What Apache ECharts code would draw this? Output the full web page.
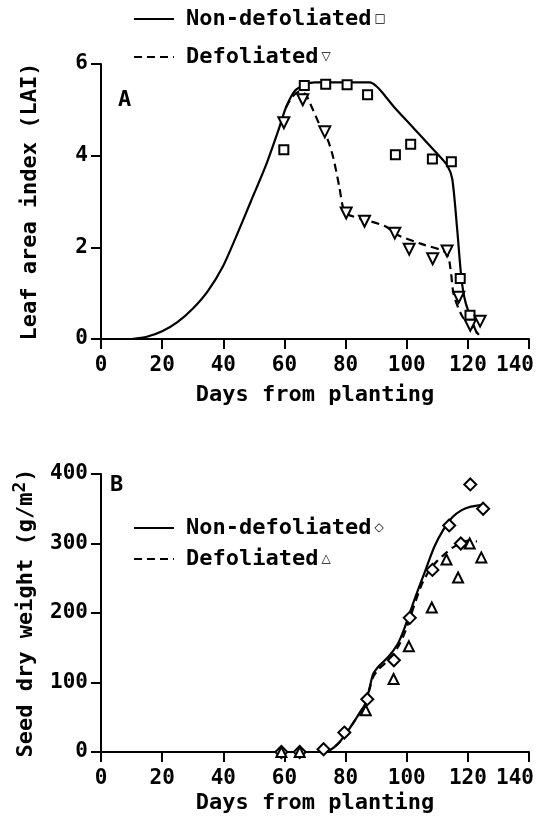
<!DOCTYPE html>
<html>
<head>
<meta charset="utf-8">
<title>LAI and seed dry weight</title>
<script src="https://cdn.jsdelivr.net/npm/echarts@6/dist/echarts.min.js"></script>
<style>
html, body { margin: 0; padding: 0; background: #fff; }
#main { width: 537px; height: 820px; }
</style>
</head>
<body>
<div id="main"></div>
<script>
var fontName = 'DejaVu Sans Mono';
var fontW = 'bold';

// A: leaf area index, fitted curves [day, LAI]
var laiNonDefCurve = [[10, 0], [15, 0.05], [20, 0.17], [25, 0.37], [30, 0.66], [35, 1.05], [40, 1.6], [44, 2.2], [49, 3.0], [54, 3.8], [58, 4.55], [60.5, 5.05], [63.5, 5.42], [67, 5.56], [70, 5.6], [88, 5.6], [90, 5.52], [92, 5.38], [96, 5.05], [102, 4.62], [110, 4.04], [113.3, 3.78], [114.9, 3.49], [116.5, 2.4], [117.9, 1.32], [119.2, 0.81], [121.4, 0.38], [123, 0.12]];
var laiDefCurve = [[60.5, 5.05], [62.5, 5.28], [65, 5.4], [67, 5.33], [69, 5.05], [72, 4.6], [74, 4.38], [76, 3.95], [78, 3.3], [79.2, 2.86], [80.5, 2.72], [86, 2.61], [93, 2.46], [97, 2.27], [105, 2.07], [113, 1.88], [114.3, 1.54], [115.4, 0.96], [118.2, 0.49], [121, 0.3], [123.6, 0.09]];
// A: observed
var laiNonDefObs = [[59.8, 4.13], [66.5, 5.53], [73.5, 5.56], [80.5, 5.55], [87.2, 5.33], [96.3, 4.02], [101.3, 4.25], [108.4, 3.93], [114.6, 3.87], [117.5, 1.32], [120.7, 0.52]];
var laiDefObs = [[59.8, 4.72], [66, 5.22], [73.2, 4.52], [80.2, 2.75], [86.2, 2.57], [96.1, 2.31], [100.8, 1.96], [108.5, 1.75], [113.2, 1.92], [117, 0.91], [120.8, 0.3], [124, 0.39]];

// B: seed dry weight, fitted curves [day, g/m2]
var seedNonDefCurve = [[60, 0], [72, 0], [75, 3], [78, 14], [81, 32], [84, 52], [86.5, 70], [88, 95], [89, 112], [91, 124], [94, 137], [97, 155], [99, 175], [101, 200], [103, 225], [106, 260], [109, 295], [112, 320], [115, 338], [118, 348], [121, 353], [125, 356]];
var seedDefCurve = [[60, 0], [72, 0], [75, 3], [78, 14], [81, 32], [84, 52], [86.5, 70], [88, 93], [89, 108], [91, 120], [94, 132], [97, 150], [99, 168], [101, 192], [103, 218], [105, 242], [107.5, 262], [110, 275], [112.5, 285], [115, 294], [117.5, 300], [120, 304], [123, 303]];
// B: observed
var seedNonDefObs = [[59, 0], [65, 0], [72.8, 4], [79.6, 28], [87.1, 76], [95.8, 132], [101, 193], [108.4, 262], [113.9, 326], [117.7, 300], [120.8, 385], [125, 350]];
var seedDefObs = [[59, 0], [65, 0], [86.6, 60], [95.7, 105], [100.7, 152], [108.2, 208], [113, 277], [116.8, 251], [120.6, 300], [124.4, 280]];

var legendNames = ['Non-defoliated', 'Defoliated'];
var marksA = { 'Non-defoliated': '□', 'Defoliated': '▽' };
var marksB = { 'Non-defoliated': '◇', 'Defoliated': '△' };

function xAxisCfg(grid, gap) {
	return {
		type: 'value', gridIndex: grid, min: 0, max: 140, interval: 20,
		name: 'Days from planting', nameLocation: 'middle', nameGap: gap,
		nameTextStyle: { fontFamily: fontName, fontWeight: fontW, fontSize: 22, color: '#000' },
		axisLine: { show: true, onZero: false, lineStyle: { color: '#000', width: 2 } },
		axisTick: { show: true, inside: false, length: 10, lineStyle: { color: '#000', width: 2 } },
		axisLabel: {
			fontFamily: fontName, fontWeight: fontW, fontSize: 21, color: '#000', margin: 16,
			// last label sits left of its tick, as on the page edge
			formatter: function(v) {
				return v === 140 ? '{m|140}' : String(v);
			},
			rich: { m: { fontFamily: fontName, fontWeight: fontW, fontSize: 21, color: '#000', padding: [0, 28, 0, 0] } }
		},
		splitLine: { show: false }
	};
}

function yAxisCfg(grid, max, step, name, rich) {
	return {
		type: 'value', gridIndex: grid, min: 0, max: max, interval: step,
		name: name, nameLocation: 'middle', nameRotate: 90, nameGap: 60,
		nameTextStyle: { fontFamily: fontName, fontWeight: fontW, fontSize: 22, color: '#000', rich: rich },
		axisLine: { show: true, onZero: false, lineStyle: { color: '#000', width: 2 } },
		axisTick: { show: true, inside: false, length: 10, lineStyle: { color: '#000', width: 2 } },
		axisLabel: { fontFamily: fontName, fontWeight: fontW, fontSize: 21, color: '#000', margin: 13 },
		splitLine: { show: false }
	};
}

function legendCfg(top, gap, marks) {
	return {
		orient: 'vertical', left: 133, top: top, padding: 0,
		itemWidth: 40, itemHeight: 14, itemGap: gap,
		data: legendNames,
		selectedMode: false,
		itemStyle: { opacity: 0 },
		formatter: function(name) {
			return '{g|}{t|' + name + '}{s|' + marks[name] + '}';
		},
		textStyle: {
			color: '#000',
			rich: {
				g: { width: 7 },
				t: { fontFamily: fontName, fontWeight: fontW, fontSize: 22, color: '#000', lineHeight: 24 },
				s: { fontFamily: 'DejaVu Sans', fontSize: 12, fontWeight: 'bold', color: '#000', padding: [0, 0, 0, 3] }
			}
		}
	};
}

function curve(name, grid, data, dashed) {
	return {
		name: name, type: 'line', xAxisIndex: grid, yAxisIndex: grid,
		data: data, symbol: 'none', smooth: 0.25,
		itemStyle: { color: '#000' },
		lineStyle: { color: '#000', width: 2.2, type: dashed ? [8, 5] : 'solid' },
		z: 2
	};
}

function points(name, grid, data, symbol, size, rotate) {
	return {
		name: name, type: 'scatter', xAxisIndex: grid, yAxisIndex: grid,
		data: data, symbol: symbol, symbolSize: size, symbolRotate: rotate || 0,
		itemStyle: { color: '#fff', borderColor: '#000', borderWidth: 2, opacity: 1 },
		z: 3
	};
}

var myChart = echarts.init(document.getElementById('main'));
var option = {
	backgroundColor: '#fff',
	animation: false,
	title: [
		{ text: 'A', left: 118, top: 89, padding: 0, textStyle: { fontFamily: fontName, fontSize: 22, fontWeight: fontW, color: '#000' } },
		{ text: 'B', left: 110, top: 474, padding: 0, textStyle: { fontFamily: fontName, fontSize: 22, fontWeight: fontW, color: '#000' } }
	],
	legend: [legendCfg(8, 16, marksA), legendCfg(517, 9, marksB)],
	grid: [
		{ left: 101, right: 8, top: 64, bottom: 481 },
		{ left: 101, right: 8, top: 474, bottom: 68 }
	],
	xAxis: [xAxisCfg(0, 45), xAxisCfg(1, 40)],
	yAxis: [
		yAxisCfg(0, 6, 2, 'Leaf area index (LAI)'),
		yAxisCfg(1, 400, 100, '{a|Seed dry weight (g/m}{b|2}{a|)}', {
			a: { fontFamily: fontName, fontWeight: fontW, fontSize: 22, color: '#000', lineHeight: 30 },
			b: { fontFamily: fontName, fontWeight: fontW, fontSize: 18, color: '#000', lineHeight: 30, verticalAlign: 'top' }
		})
	],
	series: [
		curve('Non-defoliated', 0, laiNonDefCurve, false),
		curve('Defoliated', 0, laiDefCurve, true),
		points('LAI non-defoliated obs', 0, laiNonDefObs, 'rect', 9),
		points('LAI defoliated obs', 0, laiDefObs, 'triangle', 11, 180),
		curve('Non-defoliated', 1, seedNonDefCurve, false),
		curve('Defoliated', 1, seedDefCurve, true),
		points('Seed non-defoliated obs', 1, seedNonDefObs, 'diamond', 12),
		points('Seed defoliated obs', 1, seedDefObs, 'triangle', 10)
	]
};
myChart.setOption(option);
</script>
</body>
</html>
